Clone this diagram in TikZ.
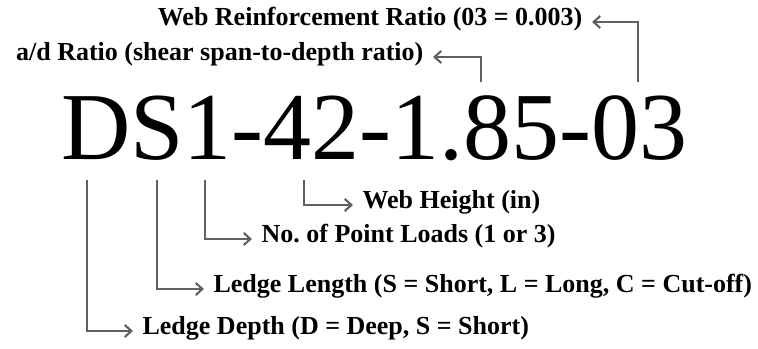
\documentclass[tikz,border=0pt]{standalone}
\usepackage{fontspec}
\setmainfont{Liberation Serif}
\newfontfamily\specfont{Liberation Serif}
\usetikzlibrary{arrows.meta, positioning}
\definecolor{leadgray}{RGB}{96,96,96}

\begin{document}
\begin{tikzpicture}[
    x=0.75pt, y=-0.75pt,
    partno/.style={anchor=base west, inner sep=0pt, font=\specfont\fontsize{72}{72}\selectfont},
    note/.style={inner xsep=7pt, inner ysep=0pt, text height=0.7em, text depth=0.2em, font=\fontsize{19.5}{19.5}\selectfont\bfseries},
    pointer/.style={draw=leadgray, line width=1.6pt, -{Straight Barb[length=5pt, width=9pt]}},
]
    \useasboundingbox (0,0) rectangle (758,349);

    % Specimen designation
    \node (spec) [partno] at (61,160) {DS1-42-1.85-03};

    % Tap points on the designation
    \coordinate (tapratio) at (638,82);
    \coordinate (tapad) at (481,82);
    \coordinate (tapheight) at (304,180);
    \coordinate (taploads) at (205,180);
    \coordinate (taplength) at (157,180);
    \coordinate (tapdepth) at (87,180);

    % Labels above
    \node (webratio) [note, anchor=east] at (592,22) {Web Reinforcement Ratio (03 = 0.003)};
    \node (adratio) [note, anchor=east] at (433,57) {a/d Ratio (shear span-to-depth ratio)};

    % Labels below
    \node (webheight) [note, anchor=west] at (353,205) {Web Height (in)};
    \node (loads) [note, anchor=west] at (252,239) {No.\ of Point Loads (1 or 3)};
    \node (ledgelength) [note, anchor=west] at (204,289) {Ledge Length (S = Short, L = Long, C = Cut-off)};
    \node (ledgedepth) [note, anchor=west] at (133,331) {Ledge Depth (D = Deep, S = Short)};

    % Leaders
    \draw [pointer] (tapratio) |- (webratio.east);
    \draw [pointer] (tapad) |- (adratio.east);
    \draw [pointer] (tapheight) |- (webheight.west);
    \draw [pointer] (taploads) |- (loads.west);
    \draw [pointer] (taplength) |- (ledgelength.west);
    \draw [pointer] (tapdepth) |- (ledgedepth.west);

\end{tikzpicture}
\end{document}
